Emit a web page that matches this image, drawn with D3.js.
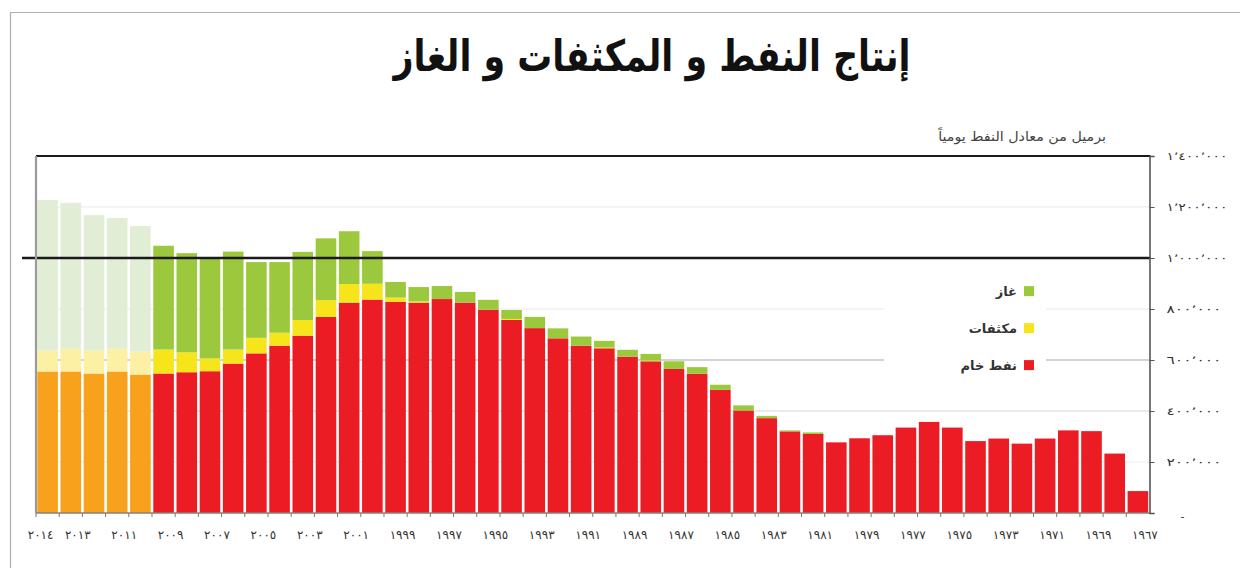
<!DOCTYPE html>
<html>
<head>
<meta charset="utf-8">
<script src="https://cdnjs.cloudflare.com/ajax/libs/d3/7.8.5/d3.min.js"></script>
<style>
  body { margin: 0; background: #fff; }
  svg { display: block; font-family: "DejaVu Sans", sans-serif; }
</style>
</head>
<body>
<div id="chart"></div>
<script>
// years run right-to-left in the original, newest first
var years = [2014, 2013, 2012, 2011, 2010, 2009, 2008, 2007, 2006, 2005, 2004, 2003, 2002, 2001, 2000,
             1999, 1998, 1997, 1996, 1995, 1994, 1993, 1992, 1991, 1990, 1989, 1988, 1987, 1986, 1985,
             1984, 1983, 1982, 1981, 1980, 1979, 1978, 1977, 1976, 1975, 1974, 1973, 1972, 1971, 1970,
             1969, 1968, 1967];

// thousand barrels of oil equivalent per day
var crude = [555, 555, 547, 555, 543, 547, 552, 556, 586, 626, 656, 695, 769, 825, 837,
             828, 825, 839, 825, 797, 757, 725, 685, 656, 646, 613, 595, 565, 546, 483,
             402, 372, 320, 310, 277, 293, 305, 335, 357, 335, 282, 292, 272, 292, 324,
             321, 233, 86];
var condensate = [82, 90, 90, 90, 90, 94, 78, 50, 55, 61, 51, 62, 66, 73, 62,
                  17, 5, 0, 0, 0, 4, 0, 0, 0, 3, 0, 3, 0, 0, 0,
                  0, 0, 0, 0, 0, 0, 0, 0, 0, 0, 0, 0, 0, 0, 0,
                  0, 0, 0];
var gas = [590, 571, 531, 512, 492, 407, 389, 394, 384, 297, 277, 267, 242, 207, 128,
           61, 56, 51, 42, 39, 35, 44, 39, 36, 26, 27, 26, 30, 26, 20,
           20, 9, 4, 6, 0, 0, 0, 0, 0, 0, 0, 0, 0, 0, 0,
           0, 0, 0];

var projectedYears = [2014, 2013, 2012, 2011, 2010];
var labelYears = [2014, 2013, 2011, 2009, 2007, 2005, 2003, 2001, 1999, 1997, 1995, 1993, 1991,
                  1989, 1987, 1985, 1983, 1981, 1979, 1977, 1975, 1973, 1971, 1969, 1967];
var yTicks = [0, 200000, 400000, 600000, 800000, 1000000, 1200000, 1400000];

var seriesKeys = ["crude", "condensate", "gas"];
var seriesNames = {gas: "غاز", condensate: "مكثفات", crude: "نفط خام"};
var colors = {crude: "#ec1c24", condensate: "#f6e51b", gas: "#9bc83c"};
var paleColors = {crude: "#f7a11c", condensate: "#fbf0a3", gas: "#e1edd4"};

var width = 1240, height = 568;
var margin = {top: 156, right: 90.5, bottom: 55, left: 36};
var plotW = width - margin.left - margin.right,
    plotH = height - margin.top - margin.bottom;

function arabicDigits(s) {
  return String(s).replace(/[0-9]/g, function(c) { return "٠١٢٣٤٥٦٧٨٩"[+c]; });
}

// squeeze or stretch a text horizontally around its anchor so it fills a given width
function fitWidth(sel, anchorX, w) {
  var tw = sel.node().getComputedTextLength();
  sel.attr("transform", "translate(" + anchorX + ",0) scale(" + (w / tw) + ",1) translate(" + (-anchorX) + ",0)");
}

var rows = years.map(function(y, i) {
  return {year: y, crude: crude[i] * 1000, condensate: condensate[i] * 1000, gas: gas[i] * 1000};
});

var stack = d3.stack().keys(seriesKeys)(rows);

var x = d3.scaleBand().domain(years).range([0, plotW]).padding(0);
var y = d3.scaleLinear().domain([0, 1400000]).range([plotH, 0]);

var svg = d3.select("#chart").append("svg")
    .attr("width", width)
    .attr("height", height);

// frame of the scanned page
svg.append("path")
  .attr("d", "M10.5,568 V12.5 H1240")
  .attr("fill", "none")
  .attr("stroke", "#b0b0b0")
  .attr("stroke-width", 1.2);

// title
var title = svg.append("text")
  .attr("x", 652)
  .attr("y", 71)
  .attr("text-anchor", "middle")
  .style("font-size", "43px")
  .style("font-weight", "bold")
  .attr("fill", "#111")
  .text("إنتاج النفط و المكثفات و الغاز");
fitWidth(title, 652, 517);

// unit label
var unit = svg.append("text")
  .attr("x", 1106)
  .attr("y", 141)
  .attr("text-anchor", "end")
  .style("font-size", "13px")
  .attr("fill", "#444")
  .text("برميل من معادل النفط يومياً");
fitWidth(unit, 1106, 168);

var g = svg.append("g")
  .attr("transform", "translate(" + margin.left + "," + margin.top + ")");

// light gridlines
var gridColor = {200000: "#f3f3f3", 400000: "#e4e4e4", 600000: "#c4c4c4", 800000: "#f1f1f1", 1200000: "#f1f1f1"};
g.append("g").selectAll("line")
  .data(yTicks.filter(function(d) { return gridColor[d]; }))
  .join("line")
    .attr("x1", 0)
    .attr("x2", plotW)
    .attr("y1", function(d) { return y(d); })
    .attr("y2", function(d) { return y(d); })
    .attr("stroke", function(d) { return gridColor[d]; })
    .attr("stroke-width", 1.5);

// stacked bars
var inset = 1.3;
g.append("g").selectAll("g")
  .data(stack)
  .join("g")
  .selectAll("rect")
  .data(function(s) { return s.map(function(d) { d.key = s.key; return d; }); })
  .join("rect")
    .attr("x", function(d) { return x(d.data.year) + inset; })
    .attr("width", x.bandwidth() - 2 * inset)
    .attr("y", function(d) { return y(d[1]); })
    .attr("height", function(d) { return y(d[0]) - y(d[1]); })
    .attr("fill", function(d) {
      return projectedYears.indexOf(d.data.year) >= 0 ? paleColors[d.key] : colors[d.key];
    });

// legend (white box hides the gridline behind it)
var legend = g.append("g").attr("transform", "translate(" + (1024 - margin.left) + ",0)");
legend.append("rect")
  .attr("x", -140)
  .attr("y", y(1060000) + 10)
  .attr("width", 162)
  .attr("height", 112)
  .attr("fill", "#fff");
var legendKeys = ["gas", "condensate", "crude"];
var legendY = d3.scalePoint().domain(legendKeys).range([y(870000), y(580000)]);
legend.selectAll("rect.key")
  .data(legendKeys)
  .join("rect")
    .attr("class", "key")
    .attr("x", 0)
    .attr("y", function(d) { return legendY(d) - 5; })
    .attr("width", 10)
    .attr("height", 10)
    .attr("fill", function(d) { return colors[d]; });
legend.selectAll("text")
  .data(legendKeys)
  .join("text")
    .attr("x", -7)
    .attr("y", function(d) { return legendY(d) + 5; })
    .attr("text-anchor", "end")
    .style("font-size", "13px")
    .style("font-weight", "bold")
    .attr("fill", "#333")
    .text(function(d) { return seriesNames[d]; });

// heavy black lines at 1,400,000 and 1,000,000
g.append("line")
  .attr("x1", 0).attr("x2", plotW + 1)
  .attr("y1", y(1400000)).attr("y2", y(1400000))
  .attr("stroke", "#1a1a1a").attr("stroke-width", 2.2);
g.append("line")
  .attr("x1", -14).attr("x2", plotW + 1)
  .attr("y1", y(1000000)).attr("y2", y(1000000))
  .attr("stroke", "#1a1a1a").attr("stroke-width", 2.4);

// left edge
g.append("line")
  .attr("x1", 0).attr("x2", 0)
  .attr("y1", 0).attr("y2", plotH)
  .attr("stroke", "#9a9a9a").attr("stroke-width", 2.2);

// x axis: small ticks at every band edge, labels on odd years
var xAxis = g.append("g")
  .attr("transform", "translate(0," + plotH + ")");
xAxis.append("line")
  .attr("x1", 0).attr("x2", plotW)
  .attr("stroke", "#8d7f78").attr("stroke-width", 1.6);
xAxis.selectAll("line.tick")
  .data(years)
  .join("line")
    .attr("class", "tick")
    .attr("x1", function(d) { return x(d); })
    .attr("x2", function(d) { return x(d); })
    .attr("y1", 0).attr("y2", 4)
    .attr("stroke", "#777");

var xLabels = g.append("g")
  .attr("transform", "translate(7," + plotH + ")")
  .call(d3.axisBottom(x).tickValues(labelYears).tickSize(0).tickPadding(17)
        .tickFormat(function(d) { return arabicDigits(d); }));
xLabels.select(".domain").remove();
xLabels.selectAll("text")
  .style("font-size", "12px")
  .style("font-family", "DejaVu Sans, sans-serif")
  .attr("fill", "#333");
// the first label sits left of its bar in the original
xLabels.selectAll(".tick").filter(function(d) { return d === 2014; })
  .select("text").attr("dx", -14);

// right y axis
var yAxis = g.append("g")
  .attr("transform", "translate(" + plotW + ",0)")
  .call(d3.axisRight(y).tickValues(yTicks).tickSize(5).tickPadding(12)
        .tickFormat(function(d) {
          return d === 0 ? "-" : arabicDigits(d3.format(",")(d)).replace(/,/g, "٬");
        }));
yAxis.select(".domain").attr("stroke", "#555").attr("stroke-width", 1.6);
yAxis.selectAll(".tick line").attr("stroke", "#555");
yAxis.selectAll("text")
  .style("font-size", "11px")
  .style("font-family", "DejaVu Sans, sans-serif")
  .attr("fill", "#333");
yAxis.selectAll(".tick").filter(function(d) { return d > 0; })
  .select("text").each(function(d) {
    var t = d3.select(this);
    fitWidth(t, +t.attr("x"), d >= 1000000 ? 61 : 55);
  });
yAxis.selectAll(".tick").filter(function(d) { return d === 0; })
  .select("text").attr("dx", 14).attr("dy", "0.6em");
</script>
</body>
</html>
